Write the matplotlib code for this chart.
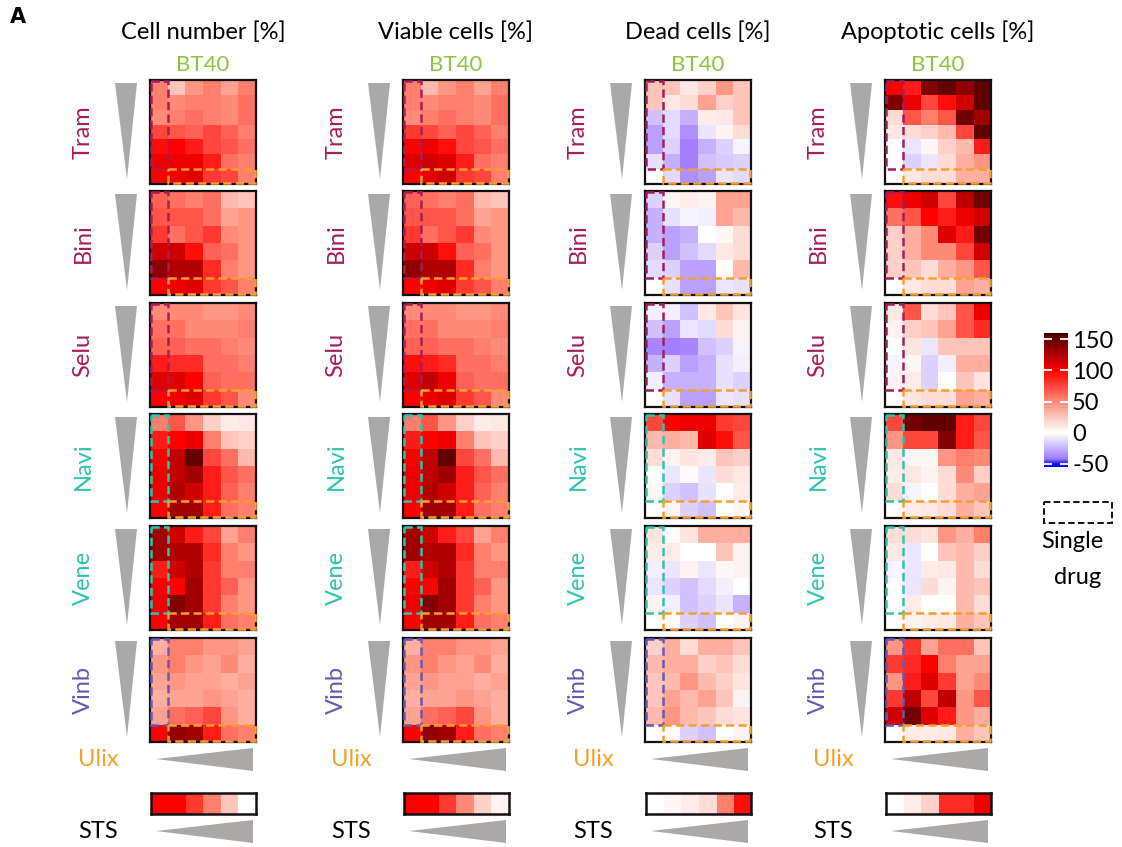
import numpy as np
import matplotlib
matplotlib.use('Agg')
from matplotlib import pyplot as plt
from matplotlib.colors import LinearSegmentedColormap, Normalize
from matplotlib.patches import Rectangle, Polygon
from matplotlib.cm import ScalarMappable

plt.rcParams['font.family'] = ['Lato', 'DejaVu Sans']
plt.rcParams['axes.unicode_minus'] = False

# ---- values [%] : rows = drug conc (high -> low, last row = Ulix alone),
#      cols = Ulix conc (low -> high, first col = drug alone)
metrics = ['Cell number [%]', 'Viable cells [%]', 'Dead cells [%]', 'Apoptotic cells [%]']
drugs = ['Tram', 'Bini', 'Selu', 'Navi', 'Vene', 'Vinb']

cells_tram = [[55, 25, 45, 55, 40, 55],
              [55, 50, 55, 55, 50, 60],
              [50, 55, 60, 55, 50, 60],
              [75, 70, 65, 75, 65, 55],
              [95, 100, 90, 75, 70, 60],
              [105, 105, 105, 90, 60, 55],
              [100, 105, 110, 80, 75, 55]]
cells_bini = [[65, 60, 55, 60, 30, 25],
              [70, 70, 70, 60, 40, 45],
              [80, 60, 70, 80, 50, 45],
              [115, 115, 95, 65, 60, 45],
              [135, 125, 125, 85, 55, 45],
              [100, 105, 110, 80, 70, 55]]
cells_selu = [[50, 50, 50, 45, 45, 50],
              [60, 60, 50, 50, 50, 55],
              [65, 65, 60, 60, 55, 50],
              [90, 85, 85, 60, 60, 55],
              [110, 110, 100, 65, 60, 60],
              [100, 105, 110, 80, 70, 50]]
cells_navi = [[55, 70, 45, 20, 8, 10],
              [90, 100, 105, 55, 25, 20],
              [100, 120, 150, 75, 60, 30],
              [105, 120, 130, 90, 70, 60],
              [105, 125, 115, 90, 65, 55],
              [100, 130, 130, 90, 60, 55]]
cells_vene = [[130, 115, 90, 75, 40, 55],
              [130, 125, 125, 85, 55, 45],
              [90, 115, 125, 80, 55, 55],
              [100, 100, 130, 80, 65, 45],
              [105, 140, 130, 80, 55, 45],
              [100, 130, 130, 90, 60, 55]]
cells_vinb = [[35, 55, 55, 45, 45, 40],
              [45, 55, 45, 40, 50, 35],
              [40, 45, 40, 40, 35, 40],
              [35, 40, 40, 45, 40, 35],
              [40, 60, 65, 75, 45, 35],
              [100, 135, 130, 90, 60, 55]]

viable_tram = [[55, 30, 45, 55, 40, 55],
               [55, 50, 55, 55, 50, 60],
               [50, 55, 60, 55, 50, 60],
               [80, 75, 65, 75, 65, 55],
               [100, 105, 95, 75, 70, 60],
               [110, 115, 110, 90, 60, 55],
               [100, 110, 115, 80, 75, 55]]
viable_bini = [[65, 60, 55, 60, 30, 25],
               [70, 70, 70, 60, 40, 45],
               [80, 60, 70, 80, 50, 45],
               [115, 115, 95, 65, 60, 45],
               [135, 125, 125, 85, 55, 45],
               [100, 105, 110, 80, 70, 55]]
viable_selu = [[50, 50, 50, 45, 45, 50],
               [60, 60, 50, 50, 50, 55],
               [65, 65, 60, 60, 55, 50],
               [95, 90, 85, 60, 60, 55],
               [110, 120, 105, 65, 60, 60],
               [100, 105, 110, 80, 70, 50]]
viable_navi = [[55, 70, 45, 20, 8, 10],
               [90, 100, 105, 55, 25, 20],
               [100, 120, 150, 75, 60, 30],
               [105, 120, 130, 90, 70, 60],
               [105, 125, 115, 90, 65, 55],
               [100, 130, 130, 90, 60, 55]]
viable_vene = [[130, 115, 90, 75, 40, 55],
               [130, 125, 125, 85, 55, 45],
               [90, 115, 125, 80, 55, 55],
               [100, 100, 130, 80, 65, 45],
               [105, 140, 130, 80, 55, 45],
               [100, 130, 130, 90, 60, 55]]
viable_vinb = [[35, 55, 55, 45, 45, 40],
               [45, 55, 45, 40, 50, 35],
               [40, 45, 40, 40, 35, 40],
               [35, 40, 40, 45, 40, 35],
               [40, 60, 65, 75, 45, 35],
               [100, 135, 130, 90, 60, 55]]

dead_tram = [[25, 25, 10, 20, 45, 25],
             [25, 10, 15, 40, 20, 25],
             [-20, -12, -25, 8, 10, 25],
             [-30, -12, -35, -8, 5, 15],
             [-30, -15, -40, -25, -15, -3],
             [-10, -25, -40, -20, -18, -15],
             [0, -12, -35, -30, -8, -12]]
dead_bini = [[-15, 3, 8, 5, 40, 40],
             [-25, -10, -3, -5, 40, 30],
             [-25, -30, -25, 0, 3, 15],
             [-15, -30, -20, -12, 10, 15],
             [-12, -15, -30, -30, 2, 30],
             [0, -10, -30, -30, -8, -10]]
dead_selu = [[-5, -5, -20, 10, 25, 12],
             [-20, -30, -8, -12, 15, 5],
             [-38, -40, -38, -20, -15, -3],
             [-25, -15, -30, -25, -10, -5],
             [-5, -25, -25, -25, -10, -15],
             [0, -10, -30, -30, -8, -10]]
dead_navi = [[75, 100, 105, 105, 80, 75],
             [30, 35, 30, 110, 95, 70],
             [15, 5, 12, 8, 25, 20],
             [0, -8, 2, -8, 15, 10],
             [3, -15, -20, -10, 0, 8],
             [0, 3, -15, -20, 0, 3]]
dead_vene = [[12, 2, 12, 35, 35, 35],
             [8, 8, 0, 0, 25, 5],
             [-5, -8, 5, -8, 3, 5],
             [-8, -15, -20, -12, -5, 0],
             [5, -5, -20, -15, -8, -25],
             [0, 2, -15, -20, 0, 5]]
dead_vinb = [[20, 35, 15, 35, 35, 25],
             [30, 35, 35, 20, 25, 15],
             [25, 30, 45, 30, 20, 12],
             [25, 40, 30, 40, 25, 5],
             [30, 45, 30, 25, 15, 12],
             [0, 2, -15, -20, 0, 5]]

apop_tram = [[100, 90, 140, 150, 135, 150],
             [140, 105, 75, 95, 115, 150],
             [15, 70, 55, 70, 145, 130],
             [10, 15, 20, 30, 75, 150],
             [0, -8, 3, 20, 30, 90],
             [0, -15, -8, 15, 35, 45],
             [0, 10, 15, 15, 35, 35]]
apop_bini = [[95, 105, 115, 75, 120, 145],
             [60, 70, 100, 90, 105, 115],
             [20, 35, 50, 110, 90, 145],
             [20, 35, 50, 50, 75, 115],
             [20, 25, 15, 35, 45, 70],
             [0, 10, 15, 15, 40, 35]]
apop_selu = [[10, 70, 15, 25, 70, 105],
             [5, 20, 25, 40, 70, 85],
             [0, 12, -8, 25, 25, 25],
             [-3, 3, -15, -5, 35, 35],
             [5, 8, -15, 0, 25, 12],
             [0, 12, 15, 15, 40, 35]]
apop_navi = [[75, 145, 150, 150, 90, 75],
             [45, 75, 75, 140, 90, 70],
             [10, 3, 3, 45, 55, 50],
             [8, 10, 5, 15, 50, 20],
             [15, -3, 0, 15, 35, 40],
             [0, 8, 10, 15, 35, 25]]
apop_vene = [[15, 15, 12, 45, 35, 55],
             [10, -8, 0, 25, 30, 20],
             [-3, -8, 8, 10, 30, 15],
             [0, -8, 15, 5, 30, 25],
             [0, 8, 0, 0, 30, 15],
             [0, 5, 8, 10, 35, 25]]
apop_vinb = [[45, 80, 40, 60, 60, 25],
             [80, 85, 100, 55, 40, 40],
             [45, 90, 110, 80, 40, 50],
             [80, 120, 75, 120, 45, 70],
             [115, 145, 110, 90, 45, 35],
             [0, 8, 8, 10, 35, 25]]

# staurosporine reference, increasing dose
sts_cells = [100, 100, 80, 55, 25, 0]
sts_viable = [100, 100, 80, 50, 20, 5]
sts_dead = [0, 3, 8, 15, 55, 95]
sts_apop = [0, 8, 20, 85, 85, 105]

data = [[cells_tram, cells_bini, cells_selu, cells_navi, cells_vene, cells_vinb],
        [viable_tram, viable_bini, viable_selu, viable_navi, viable_vene, viable_vinb],
        [dead_tram, dead_bini, dead_selu, dead_navi, dead_vene, dead_vinb],
        [apop_tram, apop_bini, apop_selu, apop_navi, apop_vene, apop_vinb]]
sts = [sts_cells, sts_viable, sts_dead, sts_apop]

# ---- style
W, H = 1122, 847
VMIN, VMAX = -55, 160
CRIMSON, TEAL, PURPLE = '#A51E5A', '#2EC4AA', '#6459B4'
ULIX, BT40, GREY = '#F5A02A', '#8CC63F', '#ABA8A8'
drug_colors = [CRIMSON, CRIMSON, CRIMSON, TEAL, TEAL, PURPLE]
DASH = (0, (3.3, 1.7))

nodes = [(-55, '#0000ff'), (-50, '#1a1aff'), (-42, '#a07aff'), (-20, '#d2c4ff'),
         (0, '#ffffff'), (50, '#ff8c78'), (100, '#ff0000'), (160, '#460000')]
cmap = LinearSegmentedColormap.from_list(
    'pct', [((v - VMIN) / (VMAX - VMIN), c) for v, c in nodes])
norm = Normalize(VMIN, VMAX)

hm_x = [150, 403, 645, 885]
hm_y = [80, 191, 303, 414, 526, 638]
hm_w, hm_h = 106, 104
FS = 17


def px(x, y, w, h):
    return [x / W, 1 - (y + h) / H, w / W, h / H]


fig = plt.figure(figsize=(W / 100, H / 100), dpi=100)
canvas = fig.add_axes([0, 0, 1, 1])
canvas.set_xlim(0, W)
canvas.set_ylim(H, 0)
canvas.axis('off')

canvas.text(10, 17, 'A', fontsize=15, fontweight='bold', va='center', ha='left',
            family=['DejaVu Sans'])

for m, x0 in enumerate(hm_x):
    cx = x0 + hm_w / 2
    canvas.text(cx, 32, metrics[m], fontsize=FS, ha='center', va='center')
    canvas.text(cx, 65, 'BT40', fontsize=FS - 1, ha='center', va='center', color=BT40)

    for d, y0 in enumerate(hm_y):
        mat = np.array(data[m][d], dtype=float)
        nr, nc = mat.shape
        ax = fig.add_axes(px(x0, y0, hm_w, hm_h))
        ax.imshow(mat, cmap=cmap, norm=norm, aspect='auto', interpolation='nearest')
        ax.set_xticks([])
        ax.set_yticks([])
        for s in ax.spines.values():
            s.set_linewidth(1.6)
            s.set_color('#111111')
        e = 0.06
        ax.add_patch(Rectangle((-0.5 + e, -0.5 + e * nr / nc), 1 - e, nr - 1 - e * nr / nc,
                               fill=False, ls=DASH, lw=1.8, ec=drug_colors[d],
                               clip_on=False, zorder=5))
        ax.add_patch(Rectangle((0.5, nr - 1.5), nc - 1 - e, 1 - e * nr / nc,
                               fill=False, ls=DASH, lw=1.8, ec=ULIX,
                               clip_on=False, zorder=5))

        # drug concentration wedge and label
        canvas.add_patch(Polygon([(x0 - 35, y0 + 3), (x0 - 13, y0 + 3), (x0 - 23, y0 + 99)],
                                 closed=True, fc=GREY, ec='none'))
        canvas.text(x0 - 67, y0 + hm_h / 2, drugs[d], rotation=90, fontsize=FS,
                    ha='center', va='center', color=drug_colors[d])

    # Ulix wedge
    canvas.text(x0 - 52, 760, 'Ulix', fontsize=FS, ha='center', va='center', color=ULIX)
    canvas.add_patch(Polygon([(x0 + 6, 759), (x0 + 103, 748), (x0 + 103, 771)],
                             closed=True, fc=GREY, ec='none'))

    # STS strip and wedge
    sx = fig.add_axes(px(x0 + 1, 793, 105, 21))
    sx.imshow(np.array([sts[m]], dtype=float), cmap=cmap, norm=norm, aspect='auto',
              interpolation='nearest')
    sx.set_xticks([])
    sx.set_yticks([])
    for s in sx.spines.values():
        s.set_linewidth(1.8)
        s.set_color('#111111')
    canvas.text(x0 - 52, 831, 'STS', fontsize=FS, ha='center', va='center', color='black')
    canvas.add_patch(Polygon([(x0 + 6, 831), (x0 + 103, 820), (x0 + 103, 843)],
                             closed=True, fc=GREY, ec='none'))

# colour scale
cax = fig.add_axes(px(1044, 333, 24, 134))
cb = fig.colorbar(ScalarMappable(norm=norm, cmap=cmap), cax=cax)
cb.outline.set_visible(False)
cb.set_ticks([150, 100, 50, 0, -50])
cax.tick_params(axis='y', direction='in', color='white', length=6, width=1.3,
                left=True, right=True, labelleft=False, labelright=True,
                labelsize=FS, pad=3)

# single-drug legend
canvas.add_patch(Rectangle((1044, 502), 68, 21, fill=False, ls=DASH, lw=1.4, ec='#111111'))
canvas.text(1072, 541, 'Single', fontsize=FS, ha='center', va='center')
canvas.text(1078, 577, 'drug', fontsize=FS, ha='center', va='center')

fig.savefig('out.png', dpi=100)
